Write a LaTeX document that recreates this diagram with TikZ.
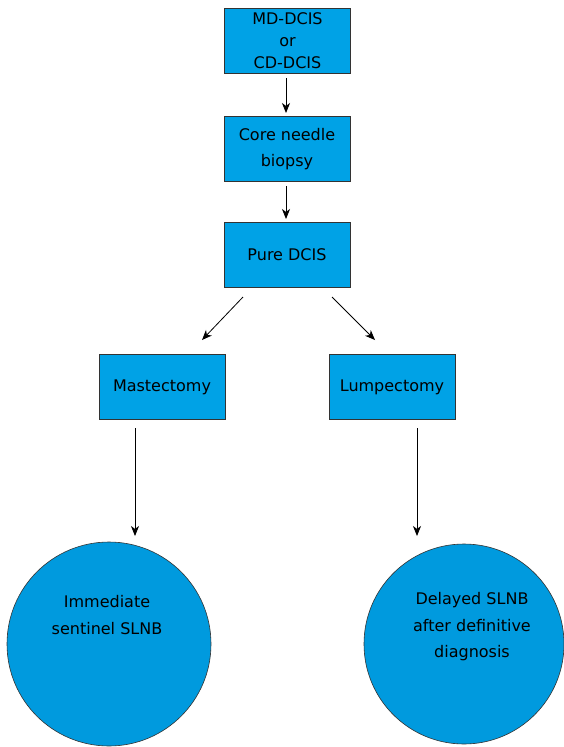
\documentclass[tikz,border=0pt]{standalone}
\usepackage{fontspec}
\setmainfont{DejaVu Sans}
\usetikzlibrary{arrows.meta}
\definecolor{boxblue}{RGB}{0,162,230}
\definecolor{circblue}{RGB}{0,154,222}
\begin{document}
\begin{tikzpicture}[x=1pt,y=-1pt,
  box/.style={draw=black!80,line width=0.8pt,fill=boxblue,minimum width=126pt,minimum height=65pt,inner sep=0pt,align=center,font=\fontsize{16}{22}\selectfont},
  circ/.style={draw=black!80,line width=0.6pt,fill=circblue,circle,inner sep=0pt},
  lbl/.style={align=center,font=\fontsize{16}{26.5}\selectfont},
  arr/.style={-{Stealth[length=10pt,width=8pt,inset=3pt]},line width=0.8pt}]
\useasboundingbox (0,0) rectangle (563,747);
\node[box] (b1) at (287.5,40.5) {MD-DCIS\\or\\CD-DCIS};
\node[box,font=\fontsize{16}{26}\selectfont] (b2) at (287,149) {Core needle\\biopsy};
\node[box] (b3) at (287,254.5) {Pure DCIS};
\node[box] (b4) at (162,387) {Mastectomy};
\node[box] (b5) at (392,387) {Lumpectomy};
\node[circ,minimum size=204pt] (c1) at (109,644) {};
\node[circ,minimum size=200pt] (c2) at (464,644) {};
\node[lbl] (t1) at (107,615) {Immediate\\sentinel SLNB};
\node[lbl] (t2) at (472,627) {Delayed SLNB\\after definitive\\diagnosis};
\coordinate (a1s) at (286,78); \coordinate (a1e) at (286,113);
\coordinate (a2s) at (286,186); \coordinate (a2e) at (286,219);
\coordinate (a3s) at (243,297); \coordinate (a3e) at (202,340);
\coordinate (a4s) at (332,297); \coordinate (a4e) at (375,340);
\coordinate (a5s) at (135,428); \coordinate (a5e) at (135,536);
\coordinate (a6s) at (417,428); \coordinate (a6e) at (417,536);
\draw[arr] (a1s) -- (a1e);
\draw[arr] (a2s) -- (a2e);
\draw[arr] (a3s) -- (a3e);
\draw[arr] (a4s) -- (a4e);
\draw[arr] (a5s) -- (a5e);
\draw[arr] (a6s) -- (a6e);
\end{tikzpicture}
\end{document}
